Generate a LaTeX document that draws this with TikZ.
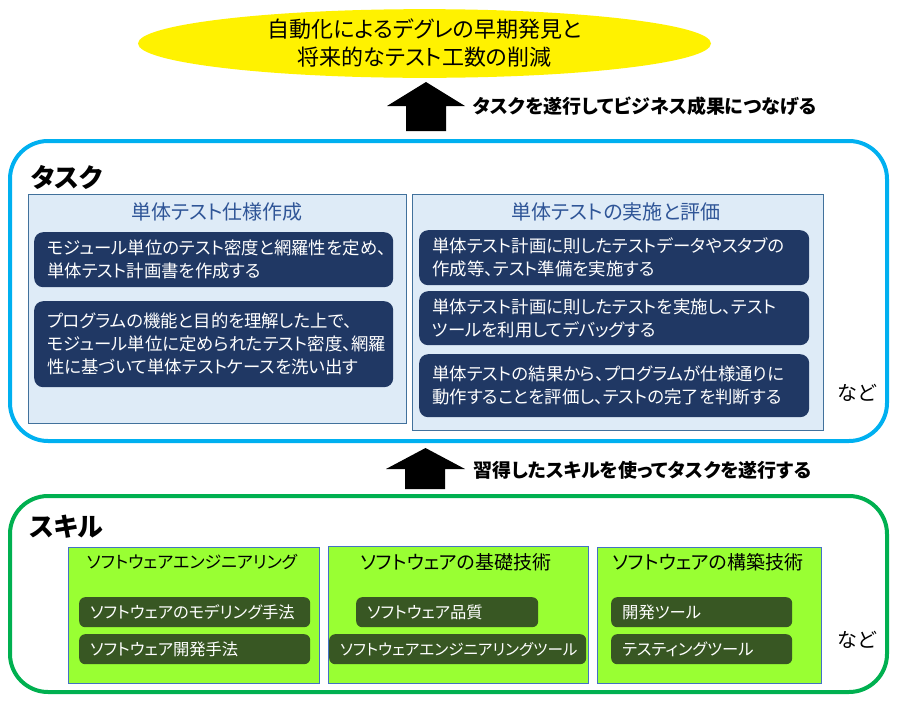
\documentclass[tikz,border=0pt]{standalone}
\usepackage{fontspec}
\setmainfont{Noto Sans CJK JP}[RawFeature={+palt}]
\usetikzlibrary{shapes.geometric}
\definecolor{cyanline}{HTML}{00B0F0}
\definecolor{greenline}{HTML}{00B050}
\definecolor{panelblue}{HTML}{DEEBF7}
\definecolor{panelborder}{HTML}{41719C}
\definecolor{titleblue}{HTML}{2F5597}
\definecolor{navy}{HTML}{203864}
\definecolor{limefill}{HTML}{99FF33}
\definecolor{limeborder}{HTML}{4472C4}
\definecolor{darkgreen}{HTML}{385723}
\newcommand\jfs[2]{\fontsize{#1}{#2}\selectfont}
\tikzset{
  frame/.style={draw, line width=4pt, rounded corners=38pt, anchor=north west, inner sep=0pt, outer sep=0pt},
  taskpanel/.style={draw=panelborder, fill=panelblue, line width=1pt, anchor=north west, inner sep=0pt},
  skillpanel/.style={draw=limeborder, fill=limefill, line width=1pt, anchor=north west, inner sep=0pt},
  navybox/.style={fill=navy, rounded corners=9pt, text=white, align=left, anchor=north west, inner xsep=13pt, inner ysep=0pt, font=\jfs{17.4}{23}},
  greenbox/.style={fill=darkgreen, rounded corners=6pt, text=white, align=left, anchor=north west, inner xsep=11pt, inner ysep=0pt, font=\jfs{16.3}{20}},
  ptitle/.style={text=titleblue, font=\jfs{20}{24}, inner sep=0pt},
  stitle/.style={text=black, font=\jfs{19}{23}, inner sep=0pt},
  head/.style={font=\jfs{26}{30}\bfseries, anchor=west, inner sep=0pt},
  arrowlabel/.style={font=\jfs{19}{24}\bfseries, anchor=west, inner sep=0pt},
  etc/.style={font=\jfs{20}{24}, inner sep=0pt},
  blockarrow/.style={fill=black}
}
\begin{document}
\begin{tikzpicture}[x=1pt,y=-1pt]
\useasboundingbox (0,0) rectangle (898,702);
% goal
\node[ellipse, fill=yellow, minimum width=573pt, minimum height=67pt, inner sep=0pt, align=center, font=\jfs{22}{28}] (goal) at (424.5,43.5) {自動化によるデグレの早期発見と\\将来的なテスト工数の削減};
% arrow 1
\fill[blockarrow] (406,131) -- (406,106) -- (387,106) -- (426,82) -- (465,106) -- (446,106) -- (446,131) -- cycle;
\node[arrowlabel] (lab1) at (473,106) {タスクを遂行してビジネス成果につなげる};
% task frame
\node[frame, draw=cyanline, minimum width=877pt, minimum height=300pt] (task) at (10,141) {};
\node[head] (taskhead) at (31,177) {タスク};
% left panel
\node[taskpanel, minimum width=378pt, minimum height=229pt] (tp1) at (28,194) {};
\node[ptitle] (tp1t) at (217,212) {単体テスト仕様作成};
\node[navybox, minimum width=359pt, minimum height=55pt, text width=333pt] (n1) at (34,232) {モジュール単位のテスト密度と網羅性を定め、\\単体テスト計画書を作成する};
\node[navybox, minimum width=359pt, minimum height=86pt, text width=333pt] (n2) at (34,301) {プログラムの機能と目的を理解した上で、\\モジュール単位に定められたテスト密度、網羅\\性に基づいて単体テストケースを洗い出す};
% right panel
\node[taskpanel, minimum width=411pt, minimum height=236pt] (tp2) at (412,194) {};
\node[ptitle] (tp2t) at (616,212) {単体テストの実施と評価};
\node[navybox, minimum width=390pt, minimum height=55pt, text width=364pt] (n3) at (419,230) {単体テスト計画に則したテストデータやスタブの\\作成等、テスト準備を実施する};
\node[navybox, minimum width=390pt, minimum height=54pt, text width=364pt] (n4) at (419,291) {単体テスト計画に則したテストを実施し、テスト\\ツールを利用してデバッグする};
\node[navybox, minimum width=390pt, minimum height=63pt, text width=364pt] (n5) at (419,354) {単体テストの結果から、プログラムが仕様通りに\\動作することを評価し、テストの完了を判断する};
\node[etc] (etc1) at (857,393) {など};
% arrow 2
\fill[blockarrow] (405,489) -- (405,469) -- (386,469) -- (425.5,448) -- (465,469) -- (445,469) -- (445,489) -- cycle;
\node[arrowlabel] (lab2) at (473,470) {習得したスキルを使ってタスクを遂行する};
% skill frame
\node[frame, draw=greenline, minimum width=877pt, minimum height=196pt] (skill) at (10,496) {};
\node[head] (skillhead) at (29,527) {スキル};
% skill panels
\node[skillpanel, minimum width=251pt, minimum height=136pt] (s1) at (68,547) {};
\node[stitle, font=\jfs{17}{23}] (s1t) at (192,562) {ソフトウェアエンジニアリング};
\node[greenbox, minimum width=231pt, minimum height=30pt, text width=209pt] (b1) at (79,597) {ソフトウェアのモデリング手法};
\node[greenbox, minimum width=231pt, minimum height=30pt, text width=209pt] (b2) at (79,634) {ソフトウェア開発手法};
\node[skillpanel, minimum width=260pt, minimum height=137pt] (s2) at (328,546) {};
\node[stitle] (s2t) at (456,562) {ソフトウェアの基礎技術};
\node[greenbox, minimum width=182pt, minimum height=30pt, text width=160pt] (b3) at (356,597) {ソフトウェア品質};
\node[greenbox, minimum width=257pt, minimum height=30pt, text width=235pt, font=\jfs{15.6}{20}] (b4) at (329,634) {ソフトウェアエンジニアリングツール};
\node[skillpanel, minimum width=224pt, minimum height=136pt] (s3) at (597,547) {};
\node[stitle] (s3t) at (708,562) {ソフトウェアの構築技術};
\node[greenbox, minimum width=181pt, minimum height=30pt, text width=159pt] (b5) at (611,597) {開発ツール};
\node[greenbox, minimum width=181pt, minimum height=30pt, text width=159pt] (b6) at (611,634) {テスティングツール};
\node[etc] (etc2) at (857,640) {など};
\end{tikzpicture}
\end{document}
